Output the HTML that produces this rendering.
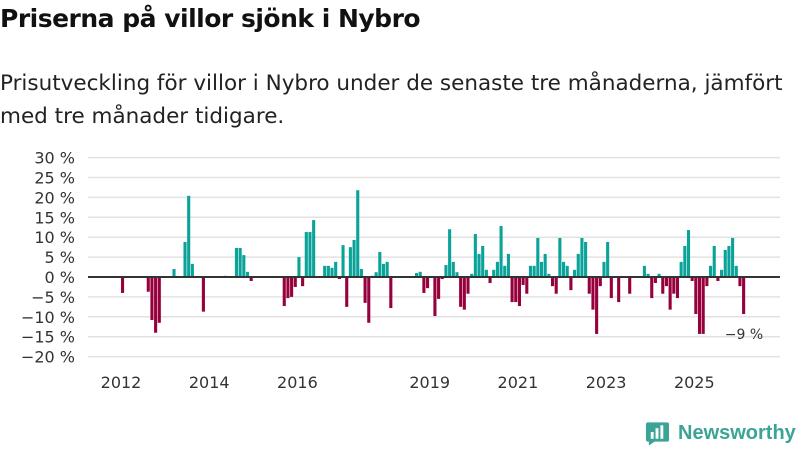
<!DOCTYPE html>
<html><head><meta charset="utf-8">
<style>
body{margin:0;width:800px;height:450px;background:#fff;font-family:"Liberation Sans","DejaVu Sans",sans-serif;overflow:hidden;position:relative}
h1{position:absolute;left:0;top:4px;margin:0;font-size:25px;font-weight:bold;color:#111;font-family:"DejaVu Sans",sans-serif;letter-spacing:-0.5px}
.sub{position:absolute;left:0;top:67px;margin:0;font-size:21.5px;line-height:33px;color:#222;font-family:"DejaVu Sans",sans-serif;width:792px}
svg{position:absolute;left:0;top:0}
</style></head><body>
<h1>Priserna på villor sjönk i Nybro</h1>
<p class="sub">Prisutveckling för villor i Nybro under de senaste tre månaderna, jämfört med tre månader tidigare.</p>
<svg id="c" width="800" height="450"></svg>
<script>
const months=[0,7,8,9,10,14,17,18,19,22,28,31,32,33,34,35,44,45,46,47,48,49,50,51,52,55,56,57,58,59,60,61,62,63,64,65,66,67,68,69,70,71,72,73,80,81,82,83,85,86,87,88,89,90,91,92,93,94,95,96,97,98,99,100,101,102,103,104,105,106,107,108,109,110,111,112,113,114,115,116,117,118,119,120,121,122,123,124,125,126,127,128,129,130,131,132,133,135,138,142,143,144,145,146,147,148,149,150,151,152,153,154,155,156,157,158,159,160,161,162,163,164,165,166,167,168,169];
const values=[-4,-3.7,-10.8,-14,-11.5,2,8.8,20.4,3.3,-8.7,0.3,7.3,7.3,5.5,1.3,-1,-7.3,-5.3,-5,-2.5,5,-2.3,11.3,11.3,14.3,2.8,2.8,2.3,3.8,-0.5,8,-7.5,7.5,9.3,21.8,2,-6.5,-11.5,0.3,1.2,6.3,3.3,3.8,-7.8,1,1.3,-4,-2.8,-9.8,-5.5,-0.5,3,12,3.8,1.2,-7.5,-8.2,-4.2,0.8,10.8,5.8,7.8,1.8,-1.5,1.8,3.8,12.8,2.8,5.8,-6.3,-6.3,-7.3,-2,-4.2,2.8,2.8,9.8,3.8,5.8,0.8,-2.3,-4.2,9.8,3.8,2.8,-3.3,1.8,5.8,9.8,8.8,-4.2,-8.2,-14.3,-2.3,3.8,8.8,-5.3,-6.3,-4.2,2.8,0.8,-5.3,-1.5,0.8,-4.2,-2.3,-8.2,-4.2,-5.3,3.8,7.8,11.8,-1,-9.3,-14.3,-14.3,-2.3,2.8,7.8,-1,1.8,6.8,7.8,9.8,2.8,-2.3,-9.3];
const yTicks=[30,25,20,15,10,5,0,-5,-10,-15,-20];
const xYears=[2012,2014,2016,2019,2021,2023,2025];
const NS='http://www.w3.org/2000/svg';
const svg=document.getElementById('c');
const y=v=>277-v*3.98;
const xm=m=>121+m*3.675;
const xy=yr=>xm((yr-2012)*12);
function mk(t,a){const e=document.createElementNS(NS,t);for(const k in a)e.setAttribute(k,a[k]);svg.appendChild(e);return e;}
yTicks.forEach(v=>{
  const g=mk('line',{x1:88,x2:780,y1:y(v),y2:y(v),stroke:'#e2e2e2','stroke-width':1.5});
  
  
  const t=mk('text',{x:75,y:y(v)+6,'text-anchor':'end','font-size':16,fill:'#333','font-family':'DejaVu Sans, sans-serif'});
  t.textContent=(v<0?'−'+(-v):v)+' %';
  
  
});
months.forEach((m,i)=>{
  const v=values[i];
  const r=mk('rect',{x:xm(m),width:3.1,y:v>=0?y(v):y(0),height:Math.abs(y(v)-y(0)),fill:v>=0?'#0aa39a':'#96003c'});
  
  
});
const z=mk('line',{x1:88,x2:780,y1:y(0),y2:y(0),stroke:'#333','stroke-width':2});


xYears.forEach(yr=>{
  const t=mk('text',{x:xy(yr),y:388,'text-anchor':'middle','font-size':16,fill:'#333','font-family':'DejaVu Sans, sans-serif'});
  t.textContent=yr;
  
  
});
const lv=values[values.length-1];
const lab=mk('text',{x:744,y:339,'text-anchor':'middle','font-size':14,fill:'#333','font-family':'DejaVu Sans, sans-serif'});
lab.textContent='−'+Math.round(-lv)+' %';


</script>
<div style="position:absolute;left:645px;top:420px;height:26px;display:flex;align-items:center">
<svg width="25" height="26" viewBox="0 0 26 26" style="position:static"><path d="M3 2h20a2 2 0 0 1 2 2v16a2 2 0 0 1-2 2H10l-6 4v-4H3a2 2 0 0 1-2-2V4a2 2 0 0 1 2-2z" fill="#3aa597"/><rect x="6" y="12" width="3" height="7" fill="#fff"/><rect x="11" y="8" width="3" height="11" fill="#fff"/><rect x="16" y="5" width="3" height="14" fill="#fff"/></svg>
<span style="margin-left:8px;font-size:20px;font-weight:bold;color:#3aa597;font-family:'Liberation Sans',sans-serif">Newsworthy</span>
</div>
</body></html>
